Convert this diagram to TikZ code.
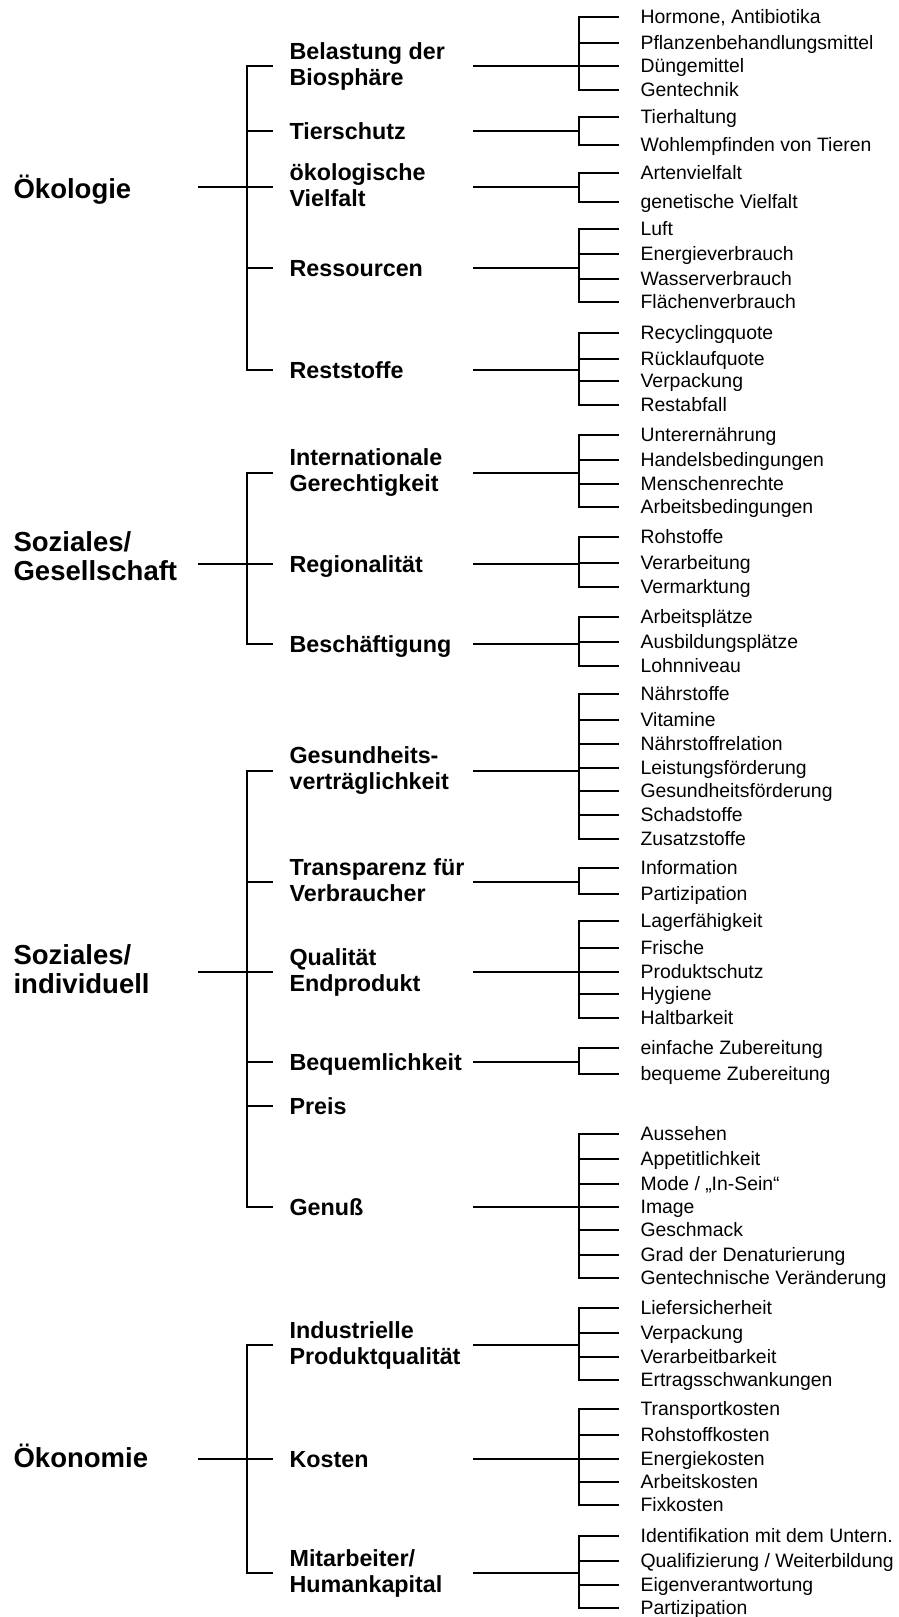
\documentclass[tikz,border=0pt]{standalone}
\usepackage{fontspec}
\setmainfont{Liberation Sans}

\begin{document}
\begin{tikzpicture}[x=1pt, y=-1pt, line width=1.2pt,
    pillar/.style={anchor=west, inner sep=0pt, align=left,
        font=\fontsize{27.5}{28.5}\selectfont\bfseries,
        execute at begin node={\rule[-4.3pt]{0pt}{28.3pt}},
        execute at end node={\rule[-4.3pt]{0pt}{28.3pt}}},
    topic/.style={anchor=west, inner xsep=16pt, inner ysep=0pt, align=left,
        font=\fontsize{23.3}{26}\selectfont\bfseries,
        execute at begin node={\rule[-4.3pt]{0pt}{25.5pt}},
        execute at end node={\rule[-4.3pt]{0pt}{25.5pt}}},
    leaf/.style={anchor=west, inner xsep=21pt, inner ysep=0pt,
        text height=13.8pt, text depth=0pt, font=\fontsize{19.4}{22}\selectfont}]

    \useasboundingbox (0,0) rectangle (899,1617);

    % Oekologie
    \node[pillar] (oeko) at (13,189) {Ökologie};
    \coordinate (oeko-in) at (198,187);
    \coordinate (oeko-j) at (247,187);
    \draw (oeko-in) -- (oeko-j);
    \node[topic] (bel) at (273,66) {Belastung der\\Biosphäre};
    \node[topic] (tier) at (273,131) {Tierschutz};
    \node[topic] (vielf) at (273,187) {ökologische\\Vielfalt};
    \node[topic] (ress) at (273,268) {Ressourcen};
    \node[topic] (rest) at (273,370) {Reststoffe};
    \foreach \t in {bel,tier,vielf,ress,rest}
        \draw (oeko-j) |- (\t.west);

    \draw (bel.west) ++(200,0) -- ++(106,0) coordinate (bel-j);
    \foreach \i/\y/\txt in {1/17/{Hormone, Antibiotika}, 2/43/Pflanzenbehandlungsmittel,
                            3/66/Düngemittel, 4/90/Gentechnik} {
        \node[leaf] (bel-\i) at (619,\y) {\txt};
        \draw (bel-j) |- (bel-\i.west);
    }
    \draw (tier.west) ++(200,0) -- ++(106,0) coordinate (tier-j);
    \foreach \i/\y/\txt in {1/117/Tierhaltung, 2/145/Wohlempfinden von Tieren} {
        \node[leaf] (tier-\i) at (619,\y) {\txt};
        \draw (tier-j) |- (tier-\i.west);
    }
    \draw (vielf.west) ++(200,0) -- ++(106,0) coordinate (vielf-j);
    \foreach \i/\y/\txt in {1/173/Artenvielfalt, 2/202/genetische Vielfalt} {
        \node[leaf] (vielf-\i) at (619,\y) {\txt};
        \draw (vielf-j) |- (vielf-\i.west);
    }
    \draw (ress.west) ++(200,0) -- ++(106,0) coordinate (ress-j);
    \foreach \i/\y/\txt in {1/229/Luft, 2/254/Energieverbrauch, 3/279/Wasserverbrauch,
                            4/302/Flächenverbrauch} {
        \node[leaf] (ress-\i) at (619,\y) {\txt};
        \draw (ress-j) |- (ress-\i.west);
    }
    \draw (rest.west) ++(200,0) -- ++(106,0) coordinate (rest-j);
    \foreach \i/\y/\txt in {1/333/Recyclingquote, 2/359/Rücklaufquote, 3/381/Verpackung,
                            4/405/Restabfall} {
        \node[leaf] (rest-\i) at (619,\y) {\txt};
        \draw (rest-j) |- (rest-\i.west);
    }

    % Soziales / Gesellschaft
    \node[pillar] (ges) at (13,558) {Soziales/\\Gesellschaft};
    \coordinate (ges-in) at (198,564);
    \coordinate (ges-j) at (247,564);
    \draw (ges-in) -- (ges-j);
    \node[topic] (intl) at (273,473) {Internationale\\Gerechtigkeit};
    \node[topic] (reg) at (273,564) {Regionalität};
    \node[topic] (besch) at (273,644) {Beschäftigung};
    \foreach \t in {intl,reg,besch}
        \draw (ges-j) |- (\t.west);

    \draw (intl.west) ++(200,0) -- ++(106,0) coordinate (intl-j);
    \foreach \i/\y/\txt in {1/435/Unterernährung, 2/460/Handelsbedingungen,
                            3/484/Menschenrechte, 4/507/Arbeitsbedingungen} {
        \node[leaf] (intl-\i) at (619,\y) {\txt};
        \draw (intl-j) |- (intl-\i.west);
    }
    \draw (reg.west) ++(200,0) -- ++(106,0) coordinate (reg-j);
    \foreach \i/\y/\txt in {1/537/Rohstoffe, 2/563/Verarbeitung, 3/587/Vermarktung} {
        \node[leaf] (reg-\i) at (619,\y) {\txt};
        \draw (reg-j) |- (reg-\i.west);
    }
    \draw (besch.west) ++(200,0) -- ++(106,0) coordinate (besch-j);
    \foreach \i/\y/\txt in {1/617/Arbeitsplätze, 2/642/Ausbildungsplätze, 3/666/Lohnniveau} {
        \node[leaf] (besch-\i) at (619,\y) {\txt};
        \draw (besch-j) |- (besch-\i.west);
    }

    % Soziales / individuell
    \node[pillar] (ind) at (13,971) {Soziales/\\individuell};
    \coordinate (ind-in) at (198,972);
    \coordinate (ind-j) at (247,972);
    \draw (ind-in) -- (ind-j);
    \node[topic] (gesu) at (273,771) {Gesundheits-\\verträglichkeit};
    \node[topic] (trans) at (273,882) {Transparenz für\\Verbraucher};
    \node[topic] (qual) at (273,972) {Qualität\\Endprodukt};
    \node[topic] (bequ) at (273,1062) {Bequemlichkeit};
    \node[topic] (preis) at (273,1106) {Preis};
    \node[topic] (genuss) at (273,1207) {Genuß};
    \foreach \t in {gesu,trans,qual,bequ,preis,genuss}
        \draw (ind-j) |- (\t.west);

    \draw (gesu.west) ++(200,0) -- ++(106,0) coordinate (gesu-j);
    \foreach \i/\y/\txt in {1/694/Nährstoffe, 2/720/Vitamine, 3/744/Nährstoffrelation,
                            4/768/Leistungsförderung, 5/791/Gesundheitsförderung,
                            6/815/Schadstoffe, 7/839/Zusatzstoffe} {
        \node[leaf] (gesu-\i) at (619,\y) {\txt};
        \draw (gesu-j) |- (gesu-\i.west);
    }
    \draw (trans.west) ++(200,0) -- ++(106,0) coordinate (trans-j);
    \foreach \i/\y/\txt in {1/868/Information, 2/894/Partizipation} {
        \node[leaf] (trans-\i) at (619,\y) {\txt};
        \draw (trans-j) |- (trans-\i.west);
    }
    \draw (qual.west) ++(200,0) -- ++(106,0) coordinate (qual-j);
    \foreach \i/\y/\txt in {1/921/Lagerfähigkeit, 2/948/Frische, 3/972/Produktschutz,
                            4/994/Hygiene, 5/1018/Haltbarkeit} {
        \node[leaf] (qual-\i) at (619,\y) {\txt};
        \draw (qual-j) |- (qual-\i.west);
    }
    \draw (bequ.west) ++(200,0) -- ++(106,0) coordinate (bequ-j);
    \foreach \i/\y/\txt in {1/1048/einfache Zubereitung, 2/1074/bequeme Zubereitung} {
        \node[leaf] (bequ-\i) at (619,\y) {\txt};
        \draw (bequ-j) |- (bequ-\i.west);
    }
    \draw (genuss.west) ++(200,0) -- ++(106,0) coordinate (genuss-j);
    \foreach \i/\y/\txt in {1/1134/Aussehen, 2/1159/Appetitlichkeit, 3/1184/{Mode / „In-Sein“},
                            4/1207/Image, 5/1230/Geschmack, 6/1255/Grad der Denaturierung,
                            7/1278/Gentechnische Veränderung} {
        \node[leaf] (genuss-\i) at (619,\y) {\txt};
        \draw (genuss-j) |- (genuss-\i.west);
    }

    % Oekonomie
    \node[pillar] (oeko2) at (13,1458) {Ökonomie};
    \coordinate (oeko2-in) at (198,1459);
    \coordinate (oeko2-j) at (247,1459);
    \draw (oeko2-in) -- (oeko2-j);
    \node[topic] (indu) at (273,1345) {Industrielle\\Produktqualität};
    \node[topic] (kost) at (273,1459) {Kosten};
    \node[topic] (mitar) at (273,1573) {Mitarbeiter/\\Humankapital};
    \foreach \t in {indu,kost,mitar}
        \draw (oeko2-j) |- (\t.west);

    \draw (indu.west) ++(200,0) -- ++(106,0) coordinate (indu-j);
    \foreach \i/\y/\txt in {1/1308/Liefersicherheit, 2/1333/Verpackung,
                            3/1357/Verarbeitbarkeit, 4/1380/Ertragsschwankungen} {
        \node[leaf] (indu-\i) at (619,\y) {\txt};
        \draw (indu-j) |- (indu-\i.west);
    }
    \draw (kost.west) ++(200,0) -- ++(106,0) coordinate (kost-j);
    \foreach \i/\y/\txt in {1/1409/Transportkosten, 2/1435/Rohstoffkosten, 3/1459/Energiekosten,
                            4/1482/Arbeitskosten, 5/1505/Fixkosten} {
        \node[leaf] (kost-\i) at (619,\y) {\txt};
        \draw (kost-j) |- (kost-\i.west);
    }
    \draw (mitar.west) ++(200,0) -- ++(106,0) coordinate (mitar-j);
    \foreach \i/\y/\txt in {1/1536/Identifikation mit dem Untern., 2/1561/{Qualifizierung / Weiterbildung},
                            3/1585/Eigenverantwortung, 4/1608/Partizipation} {
        \node[leaf] (mitar-\i) at (619,\y) {\txt};
        \draw (mitar-j) |- (mitar-\i.west);
    }
\end{tikzpicture}
\end{document}
